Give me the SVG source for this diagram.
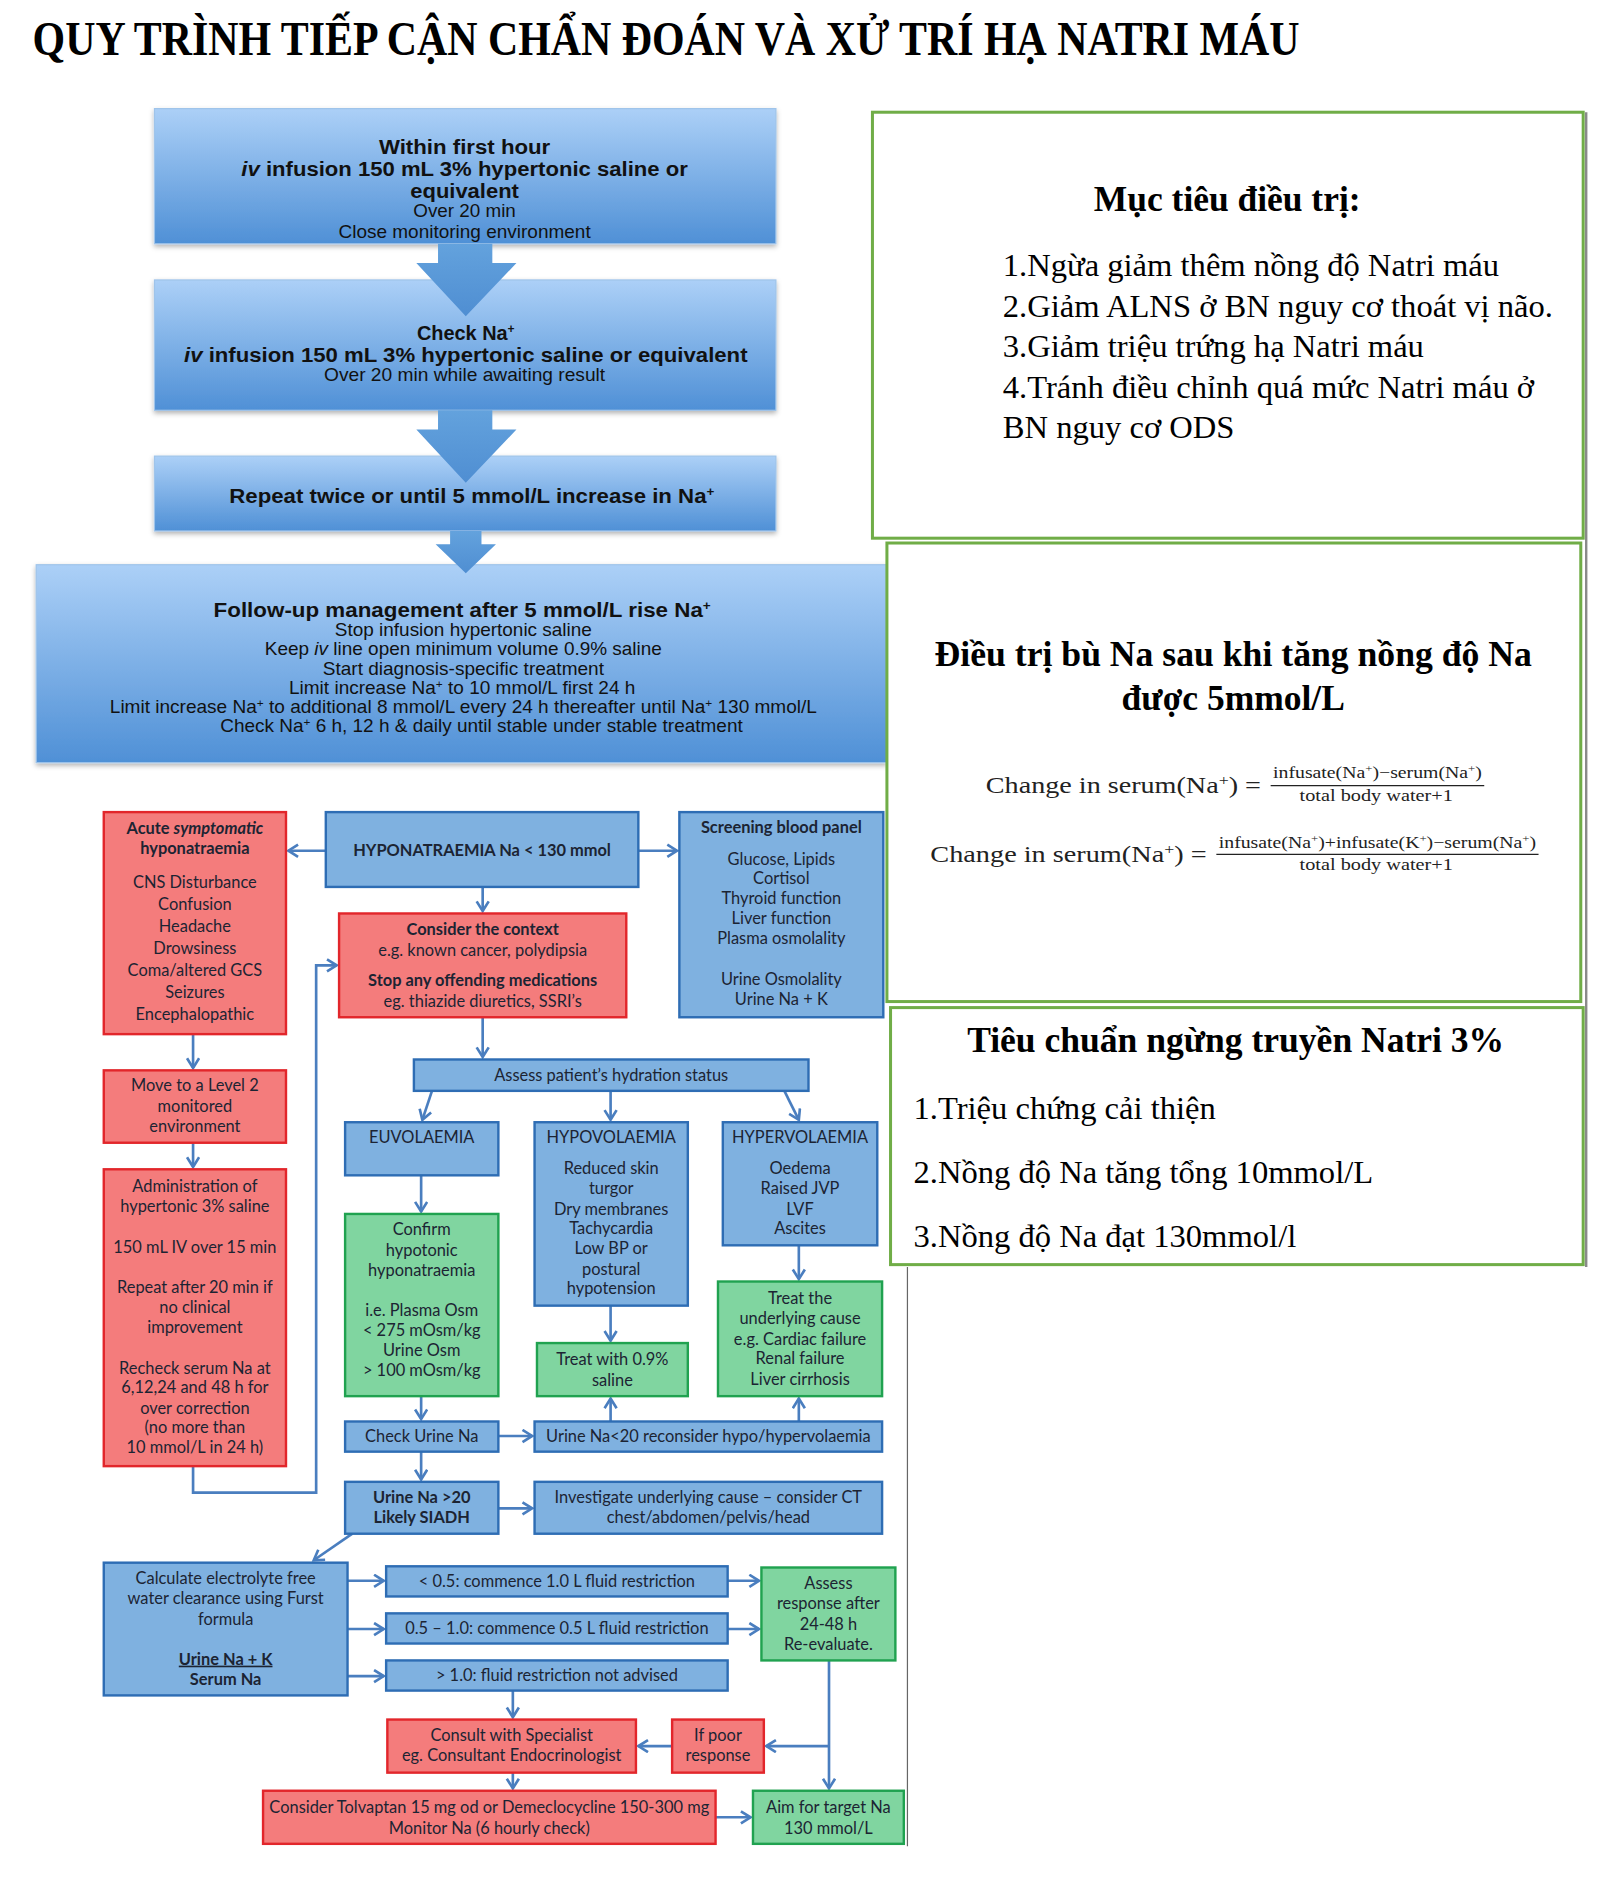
<svg xmlns="http://www.w3.org/2000/svg" width="1622" height="1892" viewBox="0 0 1622 1892">
<defs>
<style>
.tt{font-family:"Liberation Serif","DejaVu Serif",serif;font-weight:bold;fill:#000}
.ph{font-family:"Liberation Serif","DejaVu Serif",serif;font-weight:bold;font-size:30px;fill:#000;text-anchor:middle}
.pi{font-family:"Liberation Serif","DejaVu Serif",serif;font-size:27px;fill:#000}
.fm{font-family:"Liberation Serif","DejaVu Serif",serif;fill:#222}
.ab{font-family:"Liberation Sans",Arial,sans-serif;font-weight:bold;font-size:16.5px;fill:#111;text-anchor:middle}
.ar{font-family:"Liberation Sans",Arial,sans-serif;font-size:14.5px;fill:#111;text-anchor:middle}
.c{font-family:Lato,"Liberation Sans",sans-serif;font-size:13.6px;fill:#1c2433;text-anchor:middle}
.cb{font-weight:bold}
.red{fill:#f47c7c;stroke:#e2262b;stroke-width:2}
.blue{fill:#7fb1e0;stroke:#2e6db4;stroke-width:2}
.green{fill:#80d5a0;stroke:#20a250;stroke-width:2}
.panel{fill:#fff;stroke:#70ad47;stroke-width:2.5}
.gbox{fill:url(#bg);stroke:#9fc4ea;stroke-width:1;filter:url(#sh)}
.conn{stroke:#4a7ebf;stroke-width:2.2;fill:none;marker-end:url(#ah)}
.big{fill:url(#ag)}
</style>
<linearGradient id="bg" x1="0" y1="0" x2="0" y2="1">
<stop offset="0" stop-color="#acd0f7"/>
<stop offset="1" stop-color="#4f90d6"/>
</linearGradient>
<linearGradient id="ag" x1="0" y1="0" x2="0" y2="1">
<stop offset="0" stop-color="#63a2dd"/>
<stop offset="1" stop-color="#4f8ed2"/>
</linearGradient>
<filter id="sh" x="-5%" y="-10%" width="110%" height="130%">
<feDropShadow dx="0" dy="2" stdDeviation="2" flood-color="#000" flood-opacity="0.3"/>
</filter>
<marker id="ah" markerUnits="userSpaceOnUse" markerWidth="14" markerHeight="14" refX="9" refY="6" orient="auto">
<path d="M1,1 L9,6 L1,11" fill="none" stroke="#4a7ebf" stroke-width="2.2"/>
</marker>
</defs>
<rect width="1622" height="1892" fill="#fff"/>
<g transform="scale(1.2067)">
<text id="title" class="tt" x="27" y="46" font-size="40" textLength="1050" lengthAdjust="spacingAndGlyphs">QUY TRÌNH TIẾP CẬN CHẨN ĐOÁN VÀ XỬ TRÍ HẠ NATRI MÁU</text>

<!-- top acute protocol -->
<g id="box1">
<rect class="gbox" x="128" y="90" width="515" height="112"/>
<text class="ab" x="385" y="128" textLength="142" lengthAdjust="spacingAndGlyphs">Within first hour</text>
<text class="ab" x="385" y="146" textLength="370" lengthAdjust="spacingAndGlyphs"><tspan font-style="italic">iv</tspan> infusion 150 mL 3% hypertonic saline or</text>
<text class="ab" x="385" y="164" textLength="90" lengthAdjust="spacingAndGlyphs">equivalent</text>
<text class="ar" x="385" y="180" textLength="85" lengthAdjust="spacingAndGlyphs">Over 20 min</text>
<text class="ar" x="385" y="197" textLength="209" lengthAdjust="spacingAndGlyphs">Close monitoring environment</text>
</g>
<g id="box2">
<rect class="gbox" x="128" y="232" width="515" height="108"/>
<text class="ab" x="386" y="282">Check Na<tspan font-size="10" baseline-shift="super">+</tspan></text>
<text class="ab" x="386" y="300" textLength="467" lengthAdjust="spacingAndGlyphs"><tspan font-style="italic">iv</tspan> infusion 150 mL 3% hypertonic saline or equivalent</text>
<text class="ar" x="385" y="316" textLength="233" lengthAdjust="spacingAndGlyphs">Over 20 min while awaiting result</text>
</g>
<g id="box3">
<rect class="gbox" x="128" y="378" width="515" height="62"/>
<text class="ab" x="391" y="417" textLength="402" lengthAdjust="spacingAndGlyphs">Repeat twice or until 5 mmol/L increase in Na<tspan font-size="10" baseline-shift="super">+</tspan></text>
</g>
<g id="box4">
<rect class="gbox" x="30" y="468" width="705" height="164"/>
<text class="ab" x="383" y="511" textLength="412" lengthAdjust="spacingAndGlyphs">Follow-up management after 5 mmol/L rise Na<tspan font-size="10" baseline-shift="super">+</tspan></text>
<text class="ar" x="384" y="527" textLength="213" lengthAdjust="spacingAndGlyphs">Stop infusion hypertonic saline</text>
<text class="ar" x="384" y="543" textLength="329" lengthAdjust="spacingAndGlyphs">Keep <tspan font-style="italic">iv</tspan> line open minimum volume 0.9% saline</text>
<text class="ar" x="384" y="559" textLength="233" lengthAdjust="spacingAndGlyphs">Start diagnosis-specific treatment</text>
<text class="ar" x="383" y="575" textLength="287" lengthAdjust="spacingAndGlyphs">Limit increase Na<tspan font-size="9" baseline-shift="super">+</tspan> to 10 mmol/L first 24 h</text>
<text class="ar" x="384" y="591" textLength="586" lengthAdjust="spacingAndGlyphs">Limit increase Na<tspan font-size="9" baseline-shift="super">+</tspan> to additional 8 mmol/L every 24 h thereafter until Na<tspan font-size="9" baseline-shift="super">+</tspan> 130 mmol/L</text>
<text class="ar" x="399" y="607" textLength="433" lengthAdjust="spacingAndGlyphs">Check Na<tspan font-size="9" baseline-shift="super">+</tspan> 6 h, 12 h &amp; daily until stable under stable treatment</text>
</g>
<g id="bigarrows">
<polygon class="big" points="363,202 408,202 408,218 428,218 386,262 345,218 363,218"/>
<polygon class="big" points="363,340 408,340 408,356 428,356 386,400 345,356 363,356"/>
<polygon class="big" points="373,440 399,440 399,451 411,451 386,475 361,451 373,451"/>
</g>

<!-- right panels -->
<g id="panel1">
<rect class="panel" x="723" y="93" width="589" height="353"/>
<text class="ph" x="1017" y="175" textLength="221" lengthAdjust="spacingAndGlyphs">Mục tiêu điều trị:</text>
<text class="pi" x="831" y="229">1.Ngừa giảm thêm nồng độ Natri máu</text>
<text class="pi" x="831" y="263">2.Giảm ALNS ở BN nguy cơ thoát vị não.</text>
<text class="pi" x="831" y="296">3.Giảm triệu trứng hạ Natri máu</text>
<text class="pi" x="831" y="330">4.Tránh điều chỉnh quá mức Natri máu ở</text>
<text class="pi" x="831" y="363">BN nguy cơ ODS</text>
</g>
<g id="panel2">
<rect class="panel" x="735" y="450" width="575" height="380"/>
<text class="ph" x="1022" y="552" textLength="495" lengthAdjust="spacingAndGlyphs">Điều trị bù Na sau khi tăng nồng độ Na</text>
<text class="ph" x="1022" y="588" textLength="185" lengthAdjust="spacingAndGlyphs">được 5mmol/L</text>
<text class="fm" x="817" y="657" font-size="19" textLength="228" lengthAdjust="spacingAndGlyphs">Change  in  serum(Na<tspan font-size="12" baseline-shift="super">+</tspan>) =</text>
<text class="fm" x="1055" y="645" font-size="14" textLength="173" lengthAdjust="spacingAndGlyphs">infusate(Na<tspan font-size="9" baseline-shift="super">+</tspan>)−serum(Na<tspan font-size="9" baseline-shift="super">+</tspan>)</text>
<line x1="1053" y1="651" x2="1230" y2="651" stroke="#222" stroke-width="1"/>
<text class="fm" x="1077" y="664" font-size="14" textLength="127" lengthAdjust="spacingAndGlyphs">total  body  water+1</text>
<text class="fm" x="771" y="714" font-size="19" textLength="229" lengthAdjust="spacingAndGlyphs">Change  in  serum(Na<tspan font-size="12" baseline-shift="super">+</tspan>) =</text>
<text class="fm" x="1010" y="703" font-size="14" textLength="263" lengthAdjust="spacingAndGlyphs">infusate(Na<tspan font-size="9" baseline-shift="super">+</tspan>)+infusate(K<tspan font-size="9" baseline-shift="super">+</tspan>)−serum(Na<tspan font-size="9" baseline-shift="super">+</tspan>)</text>
<line x1="1008" y1="708" x2="1275" y2="708" stroke="#222" stroke-width="1"/>
<text class="fm" x="1077" y="721" font-size="14" textLength="127" lengthAdjust="spacingAndGlyphs">total  body  water+1</text>
</g>
<g id="panel3">
<rect class="panel" x="738" y="835" width="574" height="213"/>
<text class="ph" x="1024" y="872" textLength="445" lengthAdjust="spacingAndGlyphs">Tiêu chuẩn ngừng truyền Natri 3%</text>
<text class="pi" x="757" y="927">1.Triệu chứng cải thiện</text>
<text class="pi" x="757" y="980">2.Nồng độ Na tăng tổng 10mmol/L</text>
<text class="pi" x="757" y="1033">3.Nồng độ Na đạt 130mmol/l</text>
</g>
<line x1="1314.5" y1="93" x2="1314.5" y2="1050" stroke="#8a8a8a" stroke-width="2"/>
<line x1="752" y1="1050" x2="752" y2="1530" stroke="#666" stroke-width="1"/>

<!-- connectors -->
<g id="connectors">
<path class="conn" d="M270,705 H239"/>
<path class="conn" d="M529,705 H561"/>
<path class="conn" d="M400,735 V755"/>
<path class="conn" d="M400,843 V876"/>
<path class="conn" d="M358,904 L350,928"/>
<path class="conn" d="M506,904 V928"/>
<path class="conn" d="M650,904 L662,928"/>
<path class="conn" d="M349,974 V1004"/>
<path class="conn" d="M506,1082 V1111"/>
<path class="conn" d="M662,1032 V1060"/>
<path class="conn" d="M349,1157 V1176"/>
<path class="conn" d="M413,1190 H441"/>
<path class="conn" d="M506,1178 V1159"/>
<path class="conn" d="M662,1178 V1159"/>
<path class="conn" d="M349,1203 V1226"/>
<path class="conn" d="M413,1250 H441"/>
<path class="conn" d="M292,1271 L260,1293"/>
<path class="conn" d="M288,1310 H318"/>
<path class="conn" d="M288,1350 H318"/>
<path class="conn" d="M288,1389 H318"/>
<path class="conn" d="M603,1310 H629"/>
<path class="conn" d="M603,1350 H629"/>
<path class="conn" d="M425,1401 V1423"/>
<path class="conn" d="M687,1376 V1482"/>
<path class="conn" d="M687,1447 H635"/>
<path class="conn" d="M557,1447 H529"/>
<path class="conn" d="M425,1469 V1482"/>
<path class="conn" d="M593,1506 H622"/>
<path class="conn" d="M160,857 V885"/>
<path class="conn" d="M160,947 V967"/>
<path class="conn" d="M160,1215 V1237 H262 V800 H279"/>
</g>

<!-- bottom flowchart nodes -->
<g id="acute">
<rect class="red" x="86" y="673" width="151" height="184"/>
<text class="c cb" x="161.5" y="691">Acute <tspan font-style="italic">symptomatic</tspan></text>
<text class="c cb" x="161.5" y="708">hyponatraemia</text>
<text class="c" x="161.5" y="736">CNS Disturbance</text>
<text class="c" x="161.5" y="754">Confusion</text>
<text class="c" x="161.5" y="772">Headache</text>
<text class="c" x="161.5" y="791">Drowsiness</text>
<text class="c" x="161.5" y="809">Coma/altered GCS</text>
<text class="c" x="161.5" y="827">Seizures</text>
<text class="c" x="161.5" y="845">Encephalopathic</text>
</g>
<g id="hypo">
<rect class="blue" x="270" y="673" width="259" height="62"/>
<text class="c cb" x="399.5" y="709.5">HYPONATRAEMIA Na &lt; 130 mmol</text>
</g>
<g id="screening">
<rect class="blue" x="563" y="673" width="169" height="170"/>
<text class="c cb" x="647.5" y="690.5">Screening blood panel</text>
<text class="c" x="647.5" y="716.5">Glucose, Lipids</text>
<text class="c" x="647.5" y="732.5">Cortisol</text>
<text class="c" x="647.5" y="749.5">Thyroid function</text>
<text class="c" x="647.5" y="765.5">Liver function</text>
<text class="c" x="647.5" y="782.5">Plasma osmolality</text>
<text class="c" x="647.5" y="816.5">Urine Osmolality</text>
<text class="c" x="647.5" y="832.5">Urine Na + K</text>
</g>
<g id="context">
<rect class="red" x="281" y="757" width="238" height="86"/>
<text class="c cb" x="400" y="774.5">Consider the context</text>
<text class="c" x="400" y="792.5">e.g. known cancer, polydipsia</text>
<text class="c cb" x="400" y="817.5">Stop any offending medications</text>
<text class="c" x="400" y="834.5">eg. thiazide diuretics, SSRI’s</text>
</g>
<g id="assess">
<rect class="blue" x="343" y="878" width="327" height="26"/>
<text class="c" x="506.5" y="895.5">Assess patient’s hydration status</text>
</g>
<g id="euvol">
<rect class="blue" x="286" y="930" width="127" height="44"/>
<text class="c" x="349.5" y="947.5">EUVOLAEMIA</text>
</g>
<g id="hypovol">
<rect class="blue" x="443" y="930" width="127" height="152"/>
<text class="c" x="506.5" y="947.5">HYPOVOLAEMIA</text>
<text class="c" x="506.5" y="972.5">Reduced skin</text>
<text class="c" x="506.5" y="989.5">turgor</text>
<text class="c" x="506.5" y="1006.5">Dry membranes</text>
<text class="c" x="506.5" y="1022.5">Tachycardia</text>
<text class="c" x="506.5" y="1039.5">Low BP or</text>
<text class="c" x="506.5" y="1056.5">postural</text>
<text class="c" x="506.5" y="1072.5">hypotension</text>
</g>
<g id="hypervol">
<rect class="blue" x="599" y="930" width="128" height="102"/>
<text class="c" x="663" y="947.5">HYPERVOLAEMIA</text>
<text class="c" x="663" y="972.5">Oedema</text>
<text class="c" x="663" y="989.5">Raised JVP</text>
<text class="c" x="663" y="1006.5">LVF</text>
<text class="c" x="663" y="1022.5">Ascites</text>
</g>
<g id="confirm">
<rect class="green" x="286" y="1006" width="127" height="151"/>
<text class="c" x="349.5" y="1023.5">Confirm</text>
<text class="c" x="349.5" y="1040.5">hypotonic</text>
<text class="c" x="349.5" y="1057.5">hyponatraemia</text>
<text class="c" x="349.5" y="1090.5">i.e. Plasma Osm</text>
<text class="c" x="349.5" y="1107.5">&lt; 275 mOsm/kg</text>
<text class="c" x="349.5" y="1123.5">Urine Osm</text>
<text class="c" x="349.5" y="1140.5">&gt; 100 mOsm/kg</text>
</g>
<g id="treat09">
<rect class="green" x="445" y="1113" width="125" height="44"/>
<text class="c" x="507.5" y="1131.5">Treat with 0.9%</text>
<text class="c" x="507.5" y="1148.5">saline</text>
</g>
<g id="treatcause">
<rect class="green" x="595" y="1062" width="136" height="95"/>
<text class="c" x="663" y="1080.5">Treat the</text>
<text class="c" x="663" y="1097.5">underlying cause</text>
<text class="c" x="663" y="1114.5">e.g. Cardiac failure</text>
<text class="c" x="663" y="1130.5">Renal failure</text>
<text class="c" x="663" y="1147.5">Liver cirrhosis</text>
</g>
<g id="checkurine">
<rect class="blue" x="286" y="1178" width="127" height="25"/>
<text class="c" x="349.5" y="1195">Check Urine Na</text>
</g>
<g id="urinelt20">
<rect class="blue" x="443" y="1178" width="288" height="25"/>
<text class="c" x="587" y="1195">Urine Na&lt;20 reconsider hypo/hypervolaemia</text>
</g>
<g id="siadh">
<rect class="blue" x="286" y="1228" width="127" height="43"/>
<text class="c cb" x="349.5" y="1245.5">Urine Na &gt;20</text>
<text class="c cb" x="349.5" y="1262.5">Likely SIADH</text>
</g>
<g id="investigate">
<rect class="blue" x="443" y="1228" width="288" height="43"/>
<text class="c" x="587" y="1245.5">Investigate underlying cause – consider CT</text>
<text class="c" x="587" y="1262.5">chest/abdomen/pelvis/head</text>
</g>
<g id="calculate">
<rect class="blue" x="86" y="1295" width="202" height="110"/>
<text class="c" x="187" y="1312.5">Calculate electrolyte free</text>
<text class="c" x="187" y="1329.5">water clearance using Furst</text>
<text class="c" x="187" y="1346.5">formula</text>
<text class="c cb" x="187" y="1379.5" text-decoration="underline">Urine Na + K</text>
<text class="c cb" x="187" y="1396.5">Serum Na</text>
</g>
<g id="lt05">
<rect class="blue" x="320" y="1298" width="283" height="25"/>
<text class="c" x="461.5" y="1315">&lt; 0.5: commence 1.0 L fluid restriction</text>
</g>
<g id="mid">
<rect class="blue" x="320" y="1337" width="283" height="25"/>
<text class="c" x="461.5" y="1354">0.5 – 1.0: commence 0.5 L fluid restriction</text>
</g>
<g id="gt1">
<rect class="blue" x="320" y="1376" width="283" height="25"/>
<text class="c" x="461.5" y="1393">&gt; 1.0: fluid restriction not advised</text>
</g>
<g id="assessresp">
<rect class="green" x="631" y="1299" width="111" height="77"/>
<text class="c" x="686.5" y="1316.5">Assess</text>
<text class="c" x="686.5" y="1333.5">response after</text>
<text class="c" x="686.5" y="1350.5">24-48 h</text>
<text class="c" x="686.5" y="1367.5">Re-evaluate.</text>
</g>
<g id="consult">
<rect class="red" x="321" y="1425" width="206" height="44"/>
<text class="c" x="424" y="1442.5">Consult with Specialist</text>
<text class="c" x="424" y="1459.5">eg. Consultant Endocrinologist</text>
</g>
<g id="poor">
<rect class="red" x="557" y="1425" width="76" height="44"/>
<text class="c" x="595" y="1442.5">If poor</text>
<text class="c" x="595" y="1459.5">response</text>
</g>
<g id="tolvaptan">
<rect class="red" x="218" y="1484" width="375" height="44"/>
<text class="c" x="405.5" y="1502.5">Consider Tolvaptan 15 mg od or Demeclocycline 150-300 mg</text>
<text class="c" x="405.5" y="1519.5">Monitor Na (6 hourly check)</text>
</g>
<g id="aim">
<rect class="green" x="624" y="1484" width="125" height="44"/>
<text class="c" x="686.5" y="1502.5">Aim for target Na</text>
<text class="c" x="686.5" y="1519.5">130 mmol/L</text>
</g>
<g id="level2">
<rect class="red" x="86" y="887" width="151" height="60"/>
<text class="c" x="161.5" y="904.5">Move to a Level 2</text>
<text class="c" x="161.5" y="921.5">monitored</text>
<text class="c" x="161.5" y="938.5">environment</text>
</g>
<g id="admin">
<rect class="red" x="86" y="969" width="151" height="246"/>
<text class="c" x="161.5" y="987.5">Administration of</text>
<text class="c" x="161.5" y="1004.5">hypertonic 3% saline</text>
<text class="c" x="161.5" y="1038.5">150 mL IV over 15 min</text>
<text class="c" x="161.5" y="1071.5">Repeat after 20 min if</text>
<text class="c" x="161.5" y="1088.5">no clinical</text>
<text class="c" x="161.5" y="1104.5">improvement</text>
<text class="c" x="161.5" y="1138.5">Recheck serum Na at</text>
<text class="c" x="161.5" y="1154.5">6,12,24 and 48 h for</text>
<text class="c" x="161.5" y="1171.5">over correction</text>
<text class="c" x="161.5" y="1187.5">(no more than</text>
<text class="c" x="161.5" y="1204.5">10 mmol/L in 24 h)</text>
</g>
</g>
</svg>
